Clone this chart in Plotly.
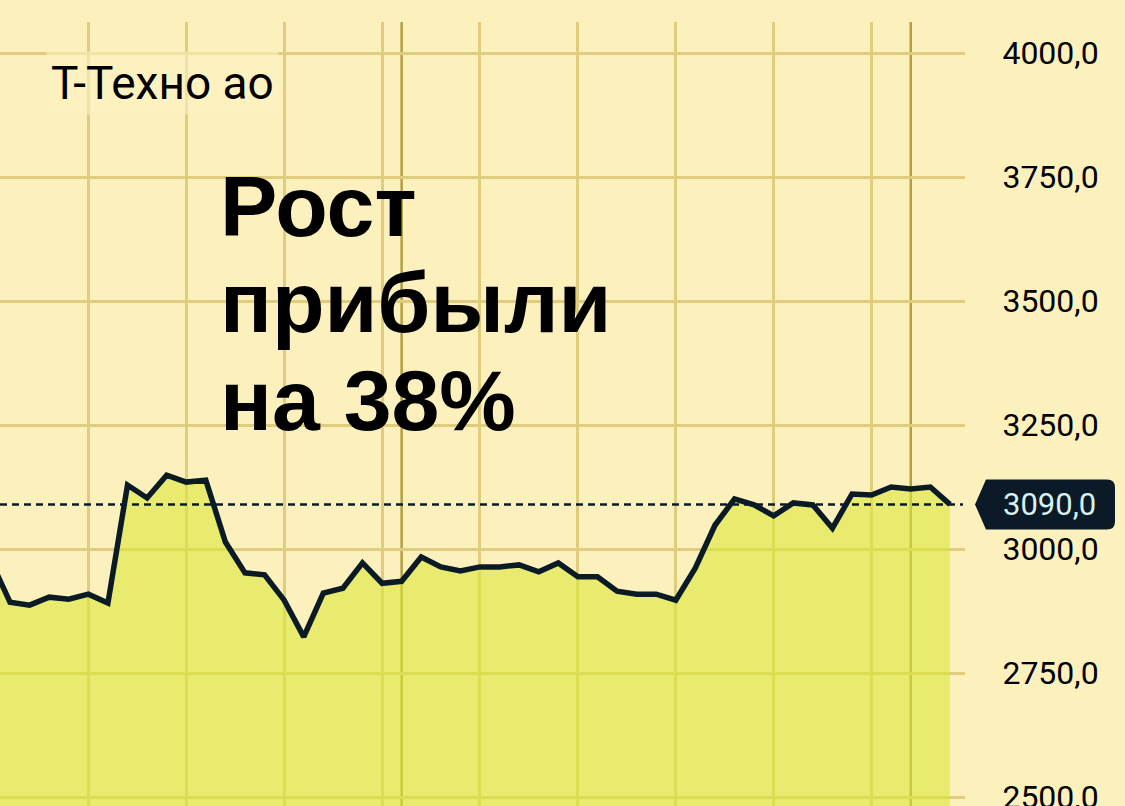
import plotly.graph_objects as go

# ---- data ----
idx = list(range(50))
prices = [2978, 2893, 2887, 2903, 2899, 2909, 2891, 3129, 3103, 3149,
          3135, 3139, 3014, 2952, 2948, 2897, 2823, 2911, 2921, 2972,
          2931, 2935, 2984, 2964, 2956, 2964, 2964, 2968, 2954, 2972,
          2944, 2944, 2915, 2909, 2909, 2897, 2962, 3048, 3101, 3089,
          3067, 3093, 3089, 3042, 3111, 3109, 3125, 3121, 3125, 3090]
y_ticks = [2500, 2750, 3000, 3250, 3500, 3750, 4000]
month_marks = [21, 47]
ticker = "Т-Техно ао"
headline = ["Рост", "прибыли", "на 38%"]

BG = "#FCF1BD"
GRID = "#DFCC7C"
LINE = "#0B1B26"

W, H = 1125, 806
L_M, R_M, T_M, B_M = 0, 160, 22, 0
PW, PH = W - L_M - R_M, H - T_M - B_M


def px_x(p):
    return (p - L_M) / PW


def px_y(p):
    return (H - B_M - p) / PH


last = prices[-1]
last_txt = f"{last:.1f}".replace(".", ",")

fig = go.Figure()
fig.add_trace(go.Scatter(
    x=idx, y=prices, mode="lines",
    line=dict(color=LINE, width=5.5, shape="linear"),
    fill="tozeroy", fillcolor="rgba(218,232,56,0.6)",
    hoverinfo="skip", showlegend=False,
))

shapes = []
for m in month_marks:
    shapes.append(dict(type="line", xref="x", yref="paper", x0=m, x1=m, y0=0, y1=1,
                       line=dict(color="rgba(160,140,30,0.8)", width=2.5), layer="below"))
# dotted last-price line
shapes.append(dict(type="line", xref="paper", yref="y", x0=0, x1=px_x(963), y0=last, y1=last,
                   line=dict(color=LINE, width=2.5, dash="7px,5px"), layer="above"))
# last-price tag
shapes.append(dict(type="path", xref="paper", yref="y", xsizemode="pixel", ysizemode="pixel",
                   xanchor=1.0, yanchor=last,
                   path="M10,0 L21,25 L142,25 Q150,25 150,17 L150,-17 Q150,-25 142,-25 L21,-25 Z",
                   fillcolor="#0B1A26", line=dict(width=0), layer="above"))

annotations = [
    dict(xref="paper", yref="y", x=px_x(1049), y=last, text=last_txt, showarrow=False,
         xanchor="center", yanchor="middle",
         font=dict(family="Roboto", size=31, color="#D6F1EE")),
    dict(xref="paper", yref="paper", x=px_x(46), y=px_y(83), text=ticker, showarrow=False,
         xanchor="left", yanchor="middle", bgcolor="rgba(252,242,192,0.6)", borderpad=4,
         font=dict(family="Roboto", size=46, color="#000000")),
]
centers = [206, 302, 400]
for t, c in zip(headline, centers):
    annotations.append(dict(xref="paper", yref="paper", x=px_x(218), y=px_y(c), text=f"<b>{t}</b>",
                            showarrow=False, xanchor="left", yanchor="middle",
                            font=dict(family="Liberation Sans, Arial", size=86, color="#000000")))

fig.update_layout(
    width=W, height=H,
    margin=dict(l=L_M, r=R_M, t=T_M, b=B_M, autoexpand=False),
    paper_bgcolor=BG, plot_bgcolor=BG,
    separators=", ",
    shapes=shapes, annotations=annotations,
    xaxis=dict(range=[0.489, 49.77], tick0=0, dtick=5, showgrid=True, gridcolor=GRID, gridwidth=2.5,
               showticklabels=False, zeroline=False, showline=False, fixedrange=True,
               automargin=False),
    yaxis=dict(range=[2482, 4062.5], side="right", tickvals=y_ticks, tickformat=".1f",
               showgrid=True, gridcolor=GRID, gridwidth=2.5, zeroline=False, showline=False,
               ticks="outside", ticklen=30, tickcolor="rgba(0,0,0,0)", ticklabeloverflow="allow",
               tickfont=dict(family="Roboto", size=32, color="#000000"), fixedrange=True,
               automargin=False),
    hovermode=False,
)

fig.write_html(
    "out.html",
    config={"displayModeBar": False},
    post_script="document.body.style.margin='0';document.body.style.padding='0';"
                "document.body.style.overflow='hidden';",
)
